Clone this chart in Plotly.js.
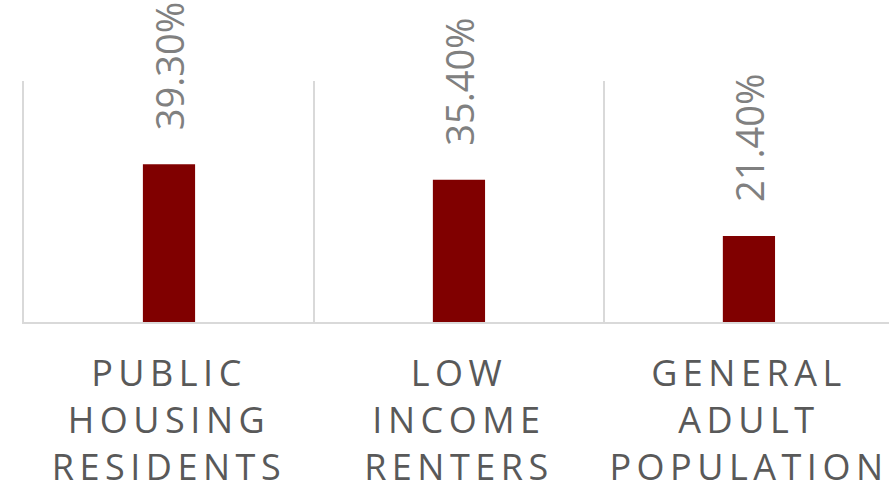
<!DOCTYPE html>
<html>
<head>
<meta charset="utf-8">
<script src="https://cdn.plot.ly/plotly-3.0.1.min.js"></script>
<style>
html, body { margin: 0; padding: 0; background: #fff; }
#chart { width: 889px; height: 496px; }
.xtick text { letter-spacing: 5.5px; }
</style>
</head>
<body>
<div id="chart"></div>
<script>
const categories = ["PUBLIC<br>HOUSING<br>RESIDENTS", "LOW<br>INCOME<br>RENTERS", "GENERAL<br>ADULT<br>POPULATION"];
const values = [39.3, 35.4, 21.4];
const valueLabels = values.map(v => v.toFixed(2) + "%");

const trace = {
  type: "bar",
  x: categories,
  y: values,
  marker: { color: "#800000" },
  hoverinfo: "skip"
};

const annotations = categories.map((c, i) => ({
  x: c,
  y: values[i],
  xref: "x",
  yref: "y",
  text: valueLabels[i],
  textangle: -90,
  showarrow: false,
  xanchor: "center",
  yanchor: "bottom",
  yshift: 32,
  font: { family: "Open Sans, sans-serif", size: 38, color: "#808080" }
}));

const layout = {
  width: 889,
  height: 496,
  margin: { l: 24, r: 0, t: 81, b: 174 },
  paper_bgcolor: "#ffffff",
  plot_bgcolor: "#ffffff",
  showlegend: false,
  bargap: 0.82,
  xaxis: {
    type: "category",
    range: [-0.5, 2.483],
    tickson: "boundaries",
    showgrid: true,
    gridcolor: "#d9d9d9",
    gridwidth: 2,
    ticks: "",
    showline: true,
    linecolor: "#d9d9d9",
    linewidth: 2,
    ticklabelstandoff: 19,
    tickfont: { family: "Open Sans, sans-serif", size: 36, color: "#595959" },
    fixedrange: true
  },
  yaxis: {
    range: [0, 60],
    showticklabels: false,
    ticks: "",
    showgrid: false,
    zeroline: false,
    showline: true,
    linecolor: "#d9d9d9",
    linewidth: 2,
    fixedrange: true
  },
  annotations: annotations
};

Plotly.newPlot("chart", [trace], layout, { displayModeBar: false, staticPlot: true });
</script>
</body>
</html>
